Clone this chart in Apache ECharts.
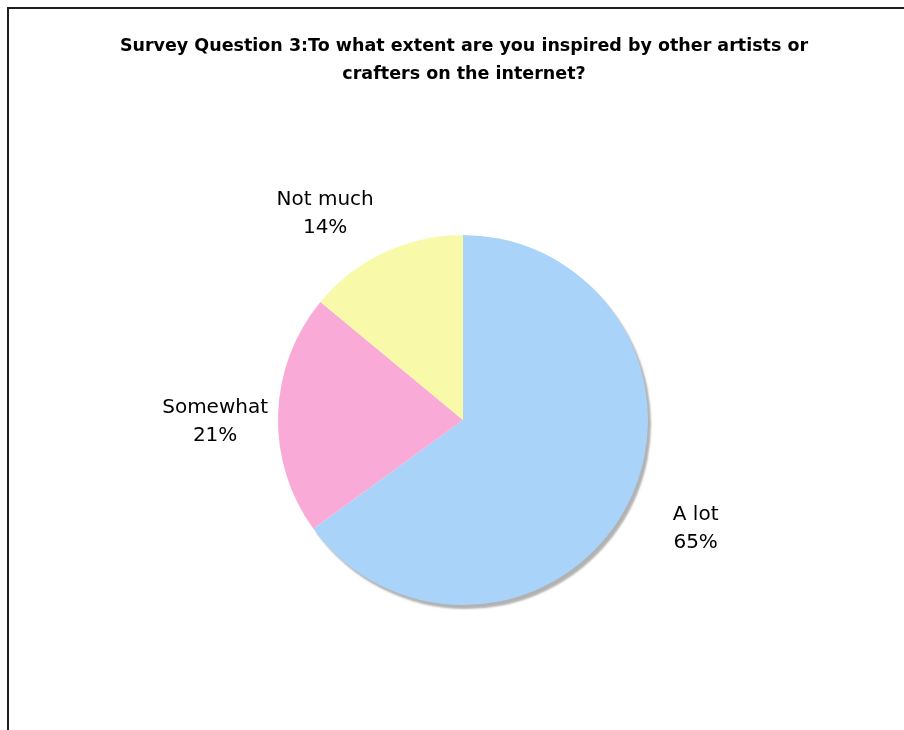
<!DOCTYPE html>
<html>
<head>
<meta charset="utf-8">
<script src="https://cdn.jsdelivr.net/npm/echarts@6/dist/echarts.min.js"></script>
<style>
html,body{margin:0;padding:0;background:#fff;}
#chart{position:absolute;left:0;top:0;width:904px;height:730px;}
#frame{position:absolute;left:7px;top:7px;width:920px;height:740px;border-left:2px solid #1e1e1e;border-top:2px solid #1e1e1e;pointer-events:none;}
</style>
</head>
<body>
<div id="chart"></div>
<div id="frame"></div>
<script>
const titleText = 'Survey Question 3:To what extent are you inspired by other artists or\ncrafters on the internet?';
const categories = ['A lot', 'Somewhat', 'Not much'];
const values = [65, 21, 14];
const colors = ['#aad3f9', '#f9aad6', '#f9f9aa'];

// label nudges (styling only), indexed like categories
const labelNudge = [[9, -5], [3, 10], [-31, 21]];

const chart = echarts.init(document.getElementById('chart'), null, {renderer: 'canvas'});
const data = categories.map((c, i) => {
  const d = {name: c, value: values[i], itemStyle: {color: colors[i]}};
  if (i === 0) {
    d.itemStyle.shadowColor = 'rgba(0,0,0,0.3)';
    d.itemStyle.shadowBlur = 2;
    d.itemStyle.shadowOffsetX = 3;
    d.itemStyle.shadowOffsetY = 4;
  }
  return d;
});

chart.setOption({
  animation: false,
  backgroundColor: '#fff',
  title: {
    text: titleText,
    left: 459,
    textAlign: 'center',
    top: 27,
    textStyle: {
      fontFamily: 'DejaVu Sans',
      fontWeight: 'bold',
      fontSize: 17.5,
      lineHeight: 28,
      color: '#000'
    }
  },
  series: [{
    type: 'pie',
    center: [463, 420],
    radius: [0, 185],
    startAngle: 90,
    clockwise: true,
    avoidLabelOverlap: false,
    data: data,
    label: {
      show: true,
      position: 'outside',
      formatter: '{b}\n{d}%',
      fontFamily: 'DejaVu Sans',
      fontSize: 20,
      lineHeight: 28,
      color: '#000',
      distanceToLabelLine: 0
    },
    labelLine: {show: false, length: 66, length2: 0},
    labelLayout: function (p) {
      const n = labelNudge[p.dataIndex] || [0, 0];
      return {align: 'center', verticalAlign: 'middle', dx: n[0], dy: n[1]};
    },
    emphasis: {disabled: true}
  }]
});
</script>
</body>
</html>
